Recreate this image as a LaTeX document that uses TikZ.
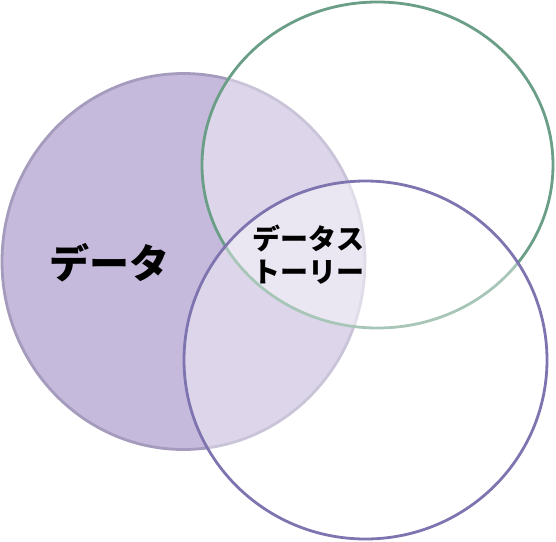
\documentclass[tikz,border=0pt]{standalone}
\usepackage{fontspec}
\usepackage{xcolor}
\usepackage{tikz}
\newfontfamily\jpfont{Noto Sans CJK JP}
\definecolor{datafill}{RGB}{198,186,220}
\definecolor{dataedge}{RGB}{165,155,188}
\definecolor{storygreen}{RGB}{106,158,134}
\definecolor{storypurple}{RGB}{126,116,176}
\tikzset{
    % Venn styles
    datacircle/.style={draw=dataedge, line width=2.8pt, fill=datafill},
    ringgreen/.style={draw=storygreen, line width=2.8pt, fill=white, fill opacity=0.42},
    ringpurple/.style={draw=storypurple, line width=2.8pt, fill=white, fill opacity=0.42},
    bigword/.style={font=\jpfont\bfseries\fontsize{40}{46}\selectfont, text=black},
    smallword/.style={font=\jpfont\bfseries\fontsize{28}{33}\selectfont, text=black, align=center}
}
\begin{document}
\begin{tikzpicture}[x=1pt, y=-1pt]
\useasboundingbox (0,0) rectangle (556,541);
% Filled set
\draw[datacircle] (183.5,261.5) ellipse [x radius=181.5, y radius=188];
% Outline sets
\draw[ringgreen] (377.5,165) ellipse [x radius=175.5, y radius=163];
\draw[ringpurple] (365.5,360) ellipse [x radius=181.5, y radius=179];

% Labels
\node[bigword] (data) at (109,263) {データ};
\node[smallword] (story) at (308,255) {データス\\トーリー};
\end{tikzpicture}
\end{document}
